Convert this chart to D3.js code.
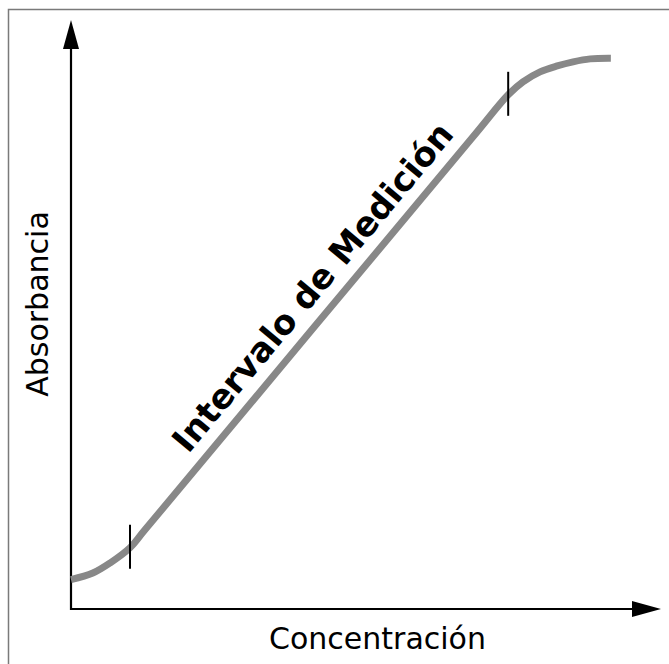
<!DOCTYPE html>
<html>
<head>
<meta charset="utf-8">
<script src="https://cdn.jsdelivr.net/npm/d3@7"></script>
<style>
html, body { margin: 0; padding: 0; background: #fff; }
text { font-family: "DejaVu Sans", Verdana, sans-serif; }
</style>
</head>
<body>
<div id="chart"></div>
<script>
// curve (arbitrary units 0..100)
var concentracion = [0, 3.7, 6.6, 10, 12.5, 68, 74.1, 76.6, 79.5, 82.4, 85.1, 88.0, 91.5]
var absorbancia   = [5.0, 6.1, 7.8, 10.4, 13.4, 80.0, 87.3, 89.5, 91.2, 92.2, 92.9, 93.4, 93.5]
var limites = [10, 74.1]          // tick marks: start / end of measuring range
var etiquetaX = "Concentración"
var etiquetaY = "Absorbancia"
var etiquetaRango = "Intervalo de Medición"

var W = 669, H = 664
var x0 = 71, x1 = 661, y0 = 609, y1 = 20

var x = d3.scaleLinear().domain([0, 100]).range([x0, x1])
var y = d3.scaleLinear().domain([0, 100]).range([y0, y1])

var svg = d3.select("#chart").append("svg")
    .attr("width", W)
    .attr("height", H)

// frame (right / bottom edges fall outside the picture)
svg.append("rect")
    .attr("x", 8.5).attr("y", 9.5)
    .attr("width", 700).attr("height", 700)
    .attr("fill", "none")
    .attr("stroke", "#7a7a7a")
    .attr("stroke-width", 1.5)

// axes with arrow heads
svg.append("line")
    .attr("x1", x0).attr("y1", y0 + 1)
    .attr("x2", x0).attr("y2", y1 + 28)
    .attr("stroke", "#000").attr("stroke-width", 2.2)
svg.append("path")
    .attr("d", "M" + x0 + "," + y1 + "L" + (x0 - 8) + "," + (y1 + 29) + "L" + (x0 + 8) + "," + (y1 + 29) + "Z")
    .attr("fill", "#000")

svg.append("line")
    .attr("x1", x0 - 1).attr("y1", y0)
    .attr("x2", x1 - 28).attr("y2", y0)
    .attr("stroke", "#000").attr("stroke-width", 2.2)
svg.append("path")
    .attr("d", "M" + x1 + "," + y0 + "L" + (x1 - 29) + "," + (y0 - 8) + "L" + (x1 - 29) + "," + (y0 + 8) + "Z")
    .attr("fill", "#000")

// the curve
var pts = concentracion.map(function(c, i){ return [c, absorbancia[i]] })
var line = d3.line()
    .x(function(d){ return x(d[0]) })
    .y(function(d){ return y(d[1]) })
    .curve(d3.curveCatmullRom.alpha(0.5))

svg.append("path")
    .datum(pts)
    .attr("d", line)
    .attr("fill", "none")
    .attr("stroke", "#888888")
    .attr("stroke-width", 7)

// range marks
var marks = limites.map(function(c){
    var i = concentracion.indexOf(c)
    return [x(c), y(absorbancia[i])]
})
svg.selectAll(".mark").data(marks)
    .enter().append("line")
    .attr("class", "mark")
    .attr("x1", function(d){ return d[0] })
    .attr("x2", function(d){ return d[0] })
    .attr("y1", function(d){ return d[1] - 23 })
    .attr("y2", function(d){ return d[1] + 21 })
    .attr("stroke", "#000")
    .attr("stroke-width", 2)

// label along the linear part
var dx = marks[1][0] - marks[0][0], dy = marks[1][1] - marks[0][1]
var len = Math.sqrt(dx * dx + dy * dy)
var ux = dx / len, uy = dy / len          // along the line
var nx = uy, ny = -ux                      // up-left normal
var ang = Math.atan2(dy, dx) * 180 / Math.PI
var mx = (marks[0][0] + marks[1][0]) / 2 + ux * 22 + nx * 15
var my = (marks[0][1] + marks[1][1]) / 2 + uy * 22 + ny * 15

svg.append("text")
    .attr("transform", "translate(" + mx + "," + my + ") rotate(" + ang + ")")
    .attr("text-anchor", "middle")
    .style("font-size", "34px")
    .style("font-weight", "bold")
    .text(etiquetaRango)

svg.append("text")
    .attr("x", 377.5)
    .attr("y", 649)
    .attr("text-anchor", "middle")
    .style("font-size", "30px")
    .text(etiquetaX)

svg.append("text")
    .attr("transform", "translate(48,304) rotate(-90)")
    .attr("text-anchor", "middle")
    .style("font-size", "30px")
    .text(etiquetaY)
</script>
</body>
</html>
